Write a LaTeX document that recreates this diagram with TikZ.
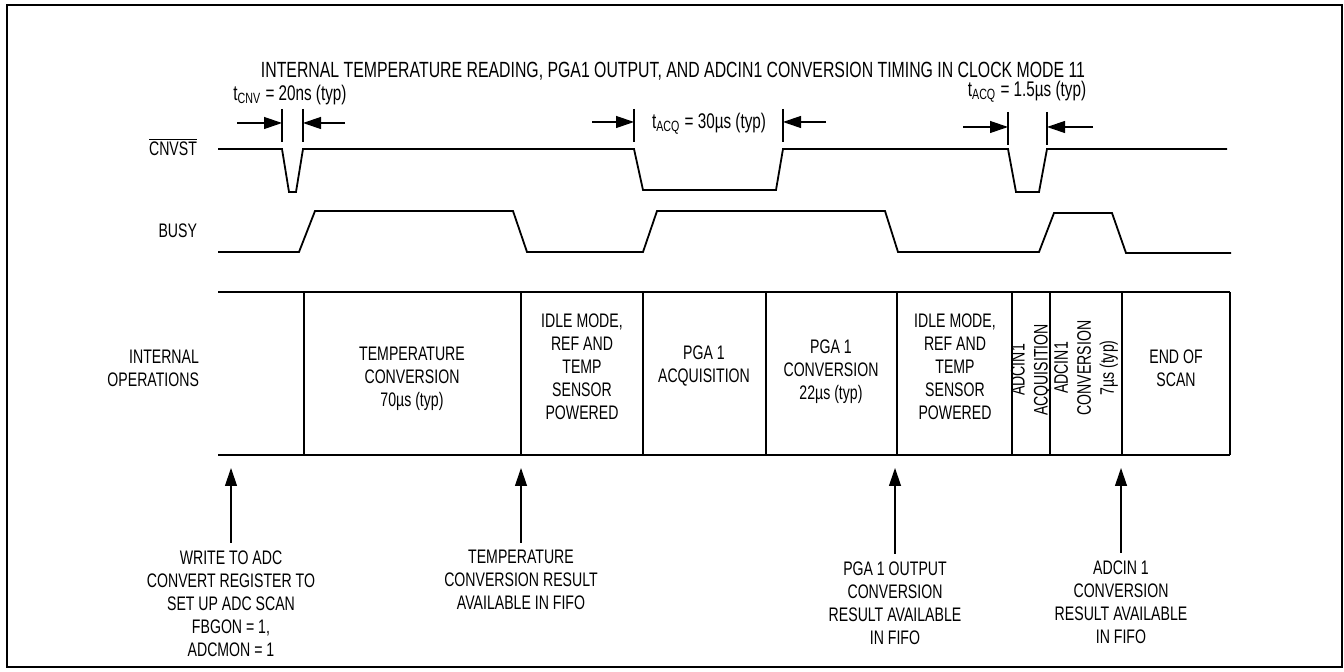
\documentclass[tikz,border=0pt]{standalone}
\usepackage{fontspec}
\setmainfont{Liberation Sans}[FakeStretch=0.72]
\usetikzlibrary{arrows.meta,positioning}

\begin{document}
\begin{tikzpicture}[x=0.5pt,y=-0.5pt,>={Triangle[length=9pt,width=6pt]},
    font=\fontsize{9.8}{11.5}\selectfont,
    sig/.style={line width=0.9pt},
    dim/.style={line width=0.6pt},
    lbl/.style={align=center, inner sep=0pt},
    dimlbl/.style={font=\fontsize{10.6}{12.5}\selectfont}]
  \useasboundingbox (0,0) rectangle (1344,672);
  \draw[line width=1.4pt] (7,5) rectangle (1342,667);

  \node (title) [font=\fontsize{11}{13}\selectfont] at (673,71) {INTERNAL TEMPERATURE READING, PGA1 OUTPUT, AND ADCIN1 CONVERSION TIMING IN CLOCK MODE 11};

  % signal names
  \node (cnvst)  [anchor=base east] at (204,156) {$\overline{\mbox{CNVST}}$};
  \node (busy)   [anchor=east] at (204,231) {BUSY};
  \node (intops) [anchor=east, align=right] at (206,368) {INTERNAL\\OPERATIONS};

  % waveforms
  \draw[sig] (218,149) -- (282,149) -- (289,192) -- (296,192) -- (303,149)
    -- (634,149) -- (643,190) -- (776,190) -- (783,149)
    -- (1008,149) -- (1016,192) -- (1039,192) -- (1047,149) -- (1227,149);
  \draw[sig] (218,252) -- (299,252) -- (315,211) -- (513,211) -- (527,252)
    -- (643,252) -- (657,211) -- (885,211) -- (898,252)
    -- (1039,252) -- (1054,213) -- (1112,213) -- (1126,253) -- (1231,253);

  % timing marks
  \draw[dim] (282,109) -- (282,142) (303,109) -- (303,142);
  \draw[dim,->] (237,123) -- (282,123);
  \draw[dim,->] (345,123) -- (303,123);
  \node (tcnv) [dimlbl] at (290,95) {t\textsubscript{CNV} = 20ns (typ)};

  \draw[dim] (634,109) -- (634,142) (783,109) -- (783,142);
  \draw[dim,->] (592,122) -- (634,122);
  \draw[dim,->] (826,122) -- (783,122);
  \node (tacqa) [dimlbl] at (709,124) {t\textsubscript{ACQ} = 30µs (typ)};

  \draw[dim] (1008,112) -- (1008,145) (1047,112) -- (1047,145);
  \draw[dim,->] (963,127) -- (1008,127);
  \draw[dim,->] (1093,127) -- (1047,127);
  \node (tacqb) [dimlbl] at (1027,92) {t\textsubscript{ACQ} = 1.5µs (typ)};

  % internal operations
  \draw[sig] (218,292) -- (1230,292) (218,455) -- (1230,455);
  \foreach \x in {304,521,643,766,897,1012,1050,1122,1230}
    \draw[sig] (\x,292) -- (\x,455);

  \node (tconv)   [lbl] at (412,379) {TEMPERATURE\\CONVERSION\\70µs (typ)};
  \node (idlea)   [lbl] at (582,367) {IDLE MODE,\\REF AND\\TEMP\\SENSOR\\POWERED};
  \node (pgaacq)  [lbl] at (704,366) {PGA 1\\ACQUISITION};
  \node (pgaconv) [lbl] at (831,372) {PGA 1\\CONVERSION\\22µs (typ)};
  \node (idleb)   [lbl] at (955,367) {IDLE MODE,\\REF AND\\TEMP\\SENSOR\\POWERED};
  \node (adcacq)  [lbl, rotate=90] at (1031,370) {ADCIN1\\ACQUISITION};
  \node (adcconv) [lbl, rotate=90] at (1086,368) {ADCIN1\\CONVERSION\\7µs (typ)};
  \node (scanend) [lbl] at (1176,368) {END OF\\SCAN};

  % events
  \node (wreg)   [lbl, anchor=north] at (231,550) {WRITE TO ADC\\CONVERT REGISTER TO\\SET UP ADC SCAN\\FBGON = 1,\\ADCMON = 1};
  \node (tres)   [lbl, anchor=north] at (521,550) {TEMPERATURE\\CONVERSION RESULT\\AVAILABLE IN FIFO};
  \node (pgares) [lbl, anchor=north] at (895,561) {PGA 1 OUTPUT\\CONVERSION\\RESULT AVAILABLE\\IN FIFO};
  \node (adcres) [lbl, anchor=north] at (1121,560) {ADCIN 1\\CONVERSION\\RESULT AVAILABLE\\IN FIFO};
  \coordinate (wtip)   at (231,468);
  \coordinate (trestip) at (521,468);
  \coordinate (pgatip) at (895,468);
  \coordinate (adctip) at (1121,468);
  \draw[dim,->,shorten <=3.5pt] (wreg) -- (wtip);
  \draw[dim,->,shorten <=3.5pt] (tres) -- (trestip);
  \draw[dim,->,shorten <=3.5pt] (pgares) -- (pgatip);
  \draw[dim,->,shorten <=3.5pt] (adcres) -- (adctip);
\end{tikzpicture}
\end{document}
